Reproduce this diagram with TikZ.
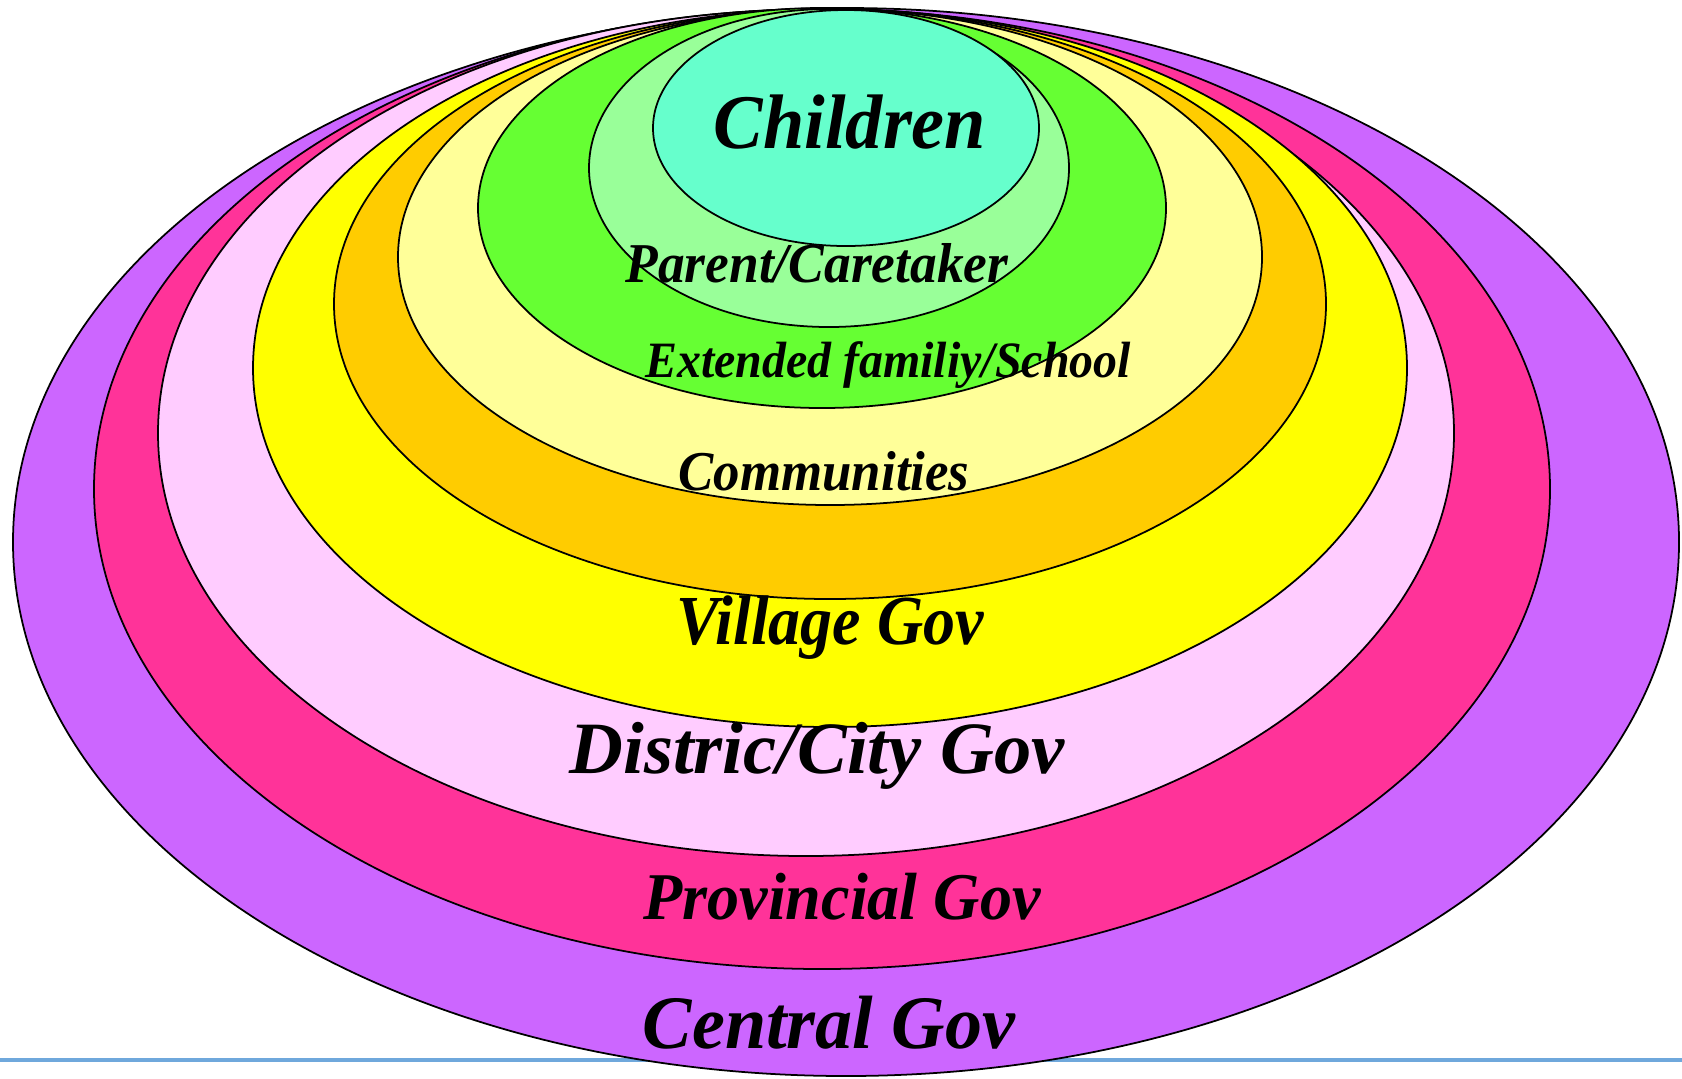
\documentclass[tikz,border=0pt]{standalone}
\usepackage{fontspec}
\setmainfont{Liberation Serif}
\definecolor{centralc}{HTML}{CC66FF}
\definecolor{provc}{HTML}{FF3399}
\definecolor{cityc}{HTML}{FFCCFF}
\definecolor{villagec}{HTML}{FFFF00}
\definecolor{orangec}{HTML}{FFCC00}
\definecolor{commc}{HTML}{FFFF99}
\definecolor{familyc}{HTML}{66FF33}
\definecolor{parentc}{HTML}{99FF99}
\definecolor{childc}{HTML}{66FFCC}
\definecolor{rulec}{HTML}{6FA8DC}
\tikzstyle{ring} = [draw=black, line width=0.5pt]
\tikzstyle{lvl} = [anchor=base, inner sep=0pt, text=black]
\newcommand{\lvlfont}[1]{\fontsize{#1}{#1}\selectfont\bfseries\itshape}
\newcommand{\narrow}[2]{\scalebox{#1}[1]{#2}}

\begin{document}
\begin{tikzpicture}[x=0.1mm, y=-0.1mm]
    \useasboundingbox (0,0) rectangle (1682,1078);
    % the blue rule at the foot of the page
    \coordinate (ruleL) at (0,1060);
    \coordinate (ruleR) at (1682,1060);
    \draw [rulec, line width=0.9pt] (ruleL) -- (ruleR);

    % rings, from the outside in
    \draw [ring, fill=centralc] (846,542) ellipse [x radius=833, y radius=534];
    \draw [ring, fill=provc]    (822,489) ellipse [x radius=728, y radius=480];
    \draw [ring, fill=cityc]    (806,433) ellipse [x radius=648, y radius=423];
    \draw [ring, fill=villagec] (830,368) ellipse [x radius=577, y radius=359];
    \draw [ring, fill=orangec]  (830,304) ellipse [x radius=496, y radius=295];
    \draw [ring, fill=commc]    (830,257) ellipse [x radius=432, y radius=248];
    \draw [ring, fill=familyc]  (822,208) ellipse [x radius=344, y radius=200];
    \draw [ring, fill=parentc]  (829,168) ellipse [x radius=240, y radius=159];
    \draw [ring, fill=childc]   (846,128) ellipse [x radius=193, y radius=118];

    % labels
    \node [lvl, font=\lvlfont{22}] (children) at (850,148) {\narrow{0.96}{Children}};
    \node [lvl, font=\lvlfont{16}] (parent) at (817,282) {\narrow{0.95}{Parent/Caretaker}};
    \node [lvl, font=\lvlfont{14.5}] (family) at (888,377) {\narrow{0.94}{Extended familiy/School}};
    \node [lvl, font=\lvlfont{16}] (comm) at (824,490) {\narrow{0.94}{Communities}};
    \node [lvl, font=\lvlfont{20}] (village) at (830,644) {\narrow{0.91}{Village Gov}};
    \node [lvl, font=\lvlfont{21}] (city) at (817,773) {\narrow{1.01}{Distric/City Gov}};
    \node [lvl, font=\lvlfont{19}] (prov) at (842,919) {\narrow{0.96}{Provincial Gov}};
    \node [lvl, font=\lvlfont{21.5}] (central) at (829,1048) {\narrow{0.98}{Central Gov}};
\end{tikzpicture}
\end{document}
